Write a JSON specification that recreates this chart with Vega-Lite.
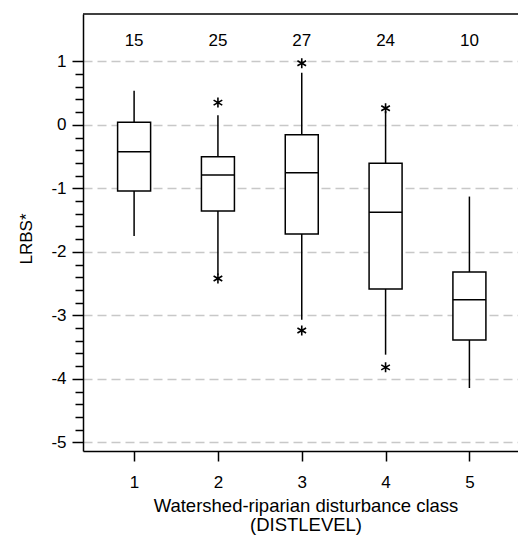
{
  "$schema": "https://vega.github.io/schema/vega-lite/v6.json",
  "autosize": {"type": "none"},
  "padding": {"left": 83, "top": 14, "right": 0, "bottom": 86},
  "width": 435,
  "height": 437,
  "background": "white",
  "resolve": {"axis": {"y": "independent"}},
  "config": {
    "font": "Liberation Sans",
    "view": {"stroke": null},
    "axis": {
      "labelColor": "black",
      "titleColor": "black",
      "tickColor": "black",
      "domainColor": "black",
      "domainWidth": 1.5,
      "tickWidth": 1.5,
      "labelFontSize": 17,
      "titleFontSize": 17,
      "titleFontWeight": "normal",
      "labelOverlap": false,
      "labelFlush": false
    }
  },
  "datasets": {
    "boxes": [
      {"d": 1, "lo": -1.75, "q1": -1.043, "med": -0.424, "q3": 0.039, "hi": 0.537, "n": 15},
      {"d": 2, "lo": -2.36, "q1": -1.357, "med": -0.79, "q3": -0.502, "hi": 0.15, "n": 25},
      {"d": 3, "lo": -3.07, "q1": -1.72, "med": -0.754, "q3": -0.156, "hi": 0.82, "n": 27},
      {"d": 4, "lo": -3.62, "q1": -2.586, "med": -1.378, "q3": -0.606, "hi": 0.22, "n": 24},
      {"d": 5, "lo": -4.145, "q1": -3.39, "med": -2.754, "q3": -2.318, "hi": -1.13, "n": 10}
    ],
    "outliers": [
      {"d": 2, "v": 0.35},
      {"d": 2, "v": -2.42},
      {"d": 3, "v": 0.97},
      {"d": 3, "v": -3.24},
      {"d": 4, "v": 0.26},
      {"d": 4, "v": -3.82}
    ]
  },
  "layer": [
    {
      "data": {"values": [{"t": 1.745}]},
      "mark": {"type": "rule", "color": "black", "strokeWidth": 1.5},
      "encoding": {
        "y": {
          "field": "t", "type": "quantitative",
          "scale": {"domain": [-5.137, 1.745], "nice": false, "zero": false},
          "axis": {
            "orient": "left",
            "values": [-4.8, -4.6, -4.4, -4.2, -3.8, -3.6, -3.4, -3.2, -2.8, -2.6, -2.4, -2.2, -1.8, -1.6, -1.4, -1.2, -0.8, -0.6, -0.4, -0.2, 0.2, 0.4, 0.6, 0.8],
            "labels": false,
            "grid": false,
            "domain": false,
            "tickSize": 8,
            "title": null
          }
        }
      }
    },
    {
      "data": {"name": "boxes"},
      "mark": {"type": "rule", "color": "black", "strokeWidth": 1.5},
      "encoding": {
        "x": {
          "field": "d", "type": "quantitative",
          "scale": {"domain": [0.45, 5.52], "nice": false, "zero": false},
          "axis": {
            "values": [1, 2, 3, 4, 5],
            "labelExpr": "toString(datum.value)",
            "grid": false,
            "tickSize": 10,
            "labelPadding": 13,
            "title": ["Watershed-riparian disturbance class", "(DISTLEVEL)"],
            "titleFontSize": 18.5,
            "titleLineHeight": 19,
            "titlePadding": 6,
            "titleX": 222.5
          }
        },
        "y": {
          "field": "lo", "type": "quantitative",
          "axis": {
            "orient": "left",
            "values": [-5, -4, -3, -2, -1, 0, 1],
            "labelExpr": "toString(datum.value)",
            "grid": true,
            "gridColor": "#c8c8c8",
            "gridWidth": 1.5,
            "gridDash": [9, 5],
            "tickSize": 11,
            "labelPadding": 6,
            "title": "LRBS*",
            "titleX": -52,
            "titleY": 224.5,
            "titleBaseline": "alphabetic",
            "titleAngle": 270
          }
        },
        "y2": {"field": "hi"}
      }
    },
    {
      "data": {"name": "boxes"},
      "mark": {"type": "bar", "size": 33, "fill": "white", "stroke": "black", "strokeWidth": 1.5},
      "encoding": {
        "x": {"field": "d", "type": "quantitative"},
        "y": {"field": "q1", "type": "quantitative", "axis": null},
        "y2": {"field": "q3"}
      }
    },
    {
      "data": {"name": "boxes"},
      "mark": {"type": "tick", "orient": "horizontal", "size": 33, "thickness": 1.5, "color": "black", "opacity": 1},
      "encoding": {
        "x": {"field": "d", "type": "quantitative"},
        "y": {"field": "med", "type": "quantitative", "axis": null}
      }
    },
    {
      "data": {"name": "outliers"},
      "mark": {"type": "point", "shape": "M0,-1L0,1M-0.866,-0.5L0.866,0.5M-0.866,0.5L0.866,-0.5", "size": 100, "filled": false, "stroke": "black", "strokeWidth": 1.6, "opacity": 1},
      "encoding": {
        "x": {"field": "d", "type": "quantitative"},
        "y": {"field": "v", "type": "quantitative", "axis": null}
      }
    },
    {
      "data": {"name": "boxes"},
      "mark": {"type": "text", "fontSize": 17, "color": "black", "baseline": "middle", "align": "center"},
      "encoding": {
        "x": {"field": "d", "type": "quantitative"},
        "y": {"datum": 1.32, "axis": null},
        "text": {"field": "n"}
      }
    }
  ]
}
